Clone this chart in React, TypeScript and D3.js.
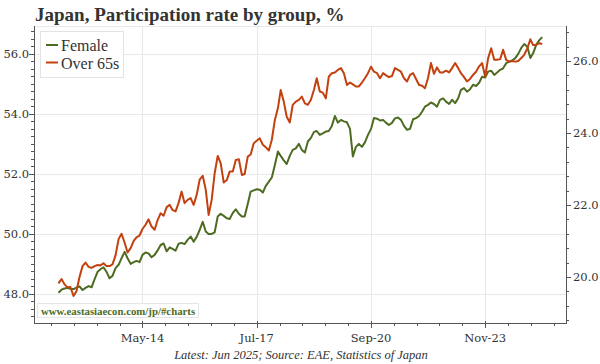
import React, { Component, createRef } from "react";
import * as d3 from "d3";

// monthly, Jan 2012 .. Jun 2025
const female: number[] = [
    48.04, 48.14, 48.18, 48.2, 48.17, 48.16, 48.21, 48.25, 48.13, 48.2, 48.26, 48.22,
    48.49, 48.74, 48.82, 48.89, 48.74, 48.52, 48.6, 48.86, 48.97, 49.19, 49.4, 49.19,
    49.0, 49.06, 49.1, 49.06, 49.3, 49.38, 49.35, 49.22, 49.3, 49.45, 49.63, 49.68,
    49.42, 49.55, 49.5, 49.44, 49.67, 49.7, 49.66, 49.8, 49.91, 49.74, 49.9, 50.13,
    50.4, 50.08, 50.0, 50.0, 50.05, 50.58, 50.67, 50.6, 50.52, 50.5, 50.7, 50.82,
    50.67, 50.58, 50.58, 51.0, 51.41, 51.45, 51.49, 51.47, 51.38, 51.6, 51.74, 51.88,
    52.3, 52.75, 52.6, 52.45, 52.33, 52.6, 52.8, 52.85, 53.0, 52.8, 52.71, 53.08,
    53.2, 53.4, 53.43, 53.3, 53.35, 53.41, 53.43, 53.6, 53.93, 53.71, 53.8, 53.75,
    53.72, 53.5, 52.58, 52.9, 53.0, 52.9, 53.05, 53.3, 53.5, 53.86, 53.84, 53.78,
    53.8, 53.7, 53.63, 53.7, 53.85, 53.88, 53.8, 53.6, 53.47, 53.5, 53.82, 53.86,
    53.93, 54.08, 54.24, 54.3, 54.38, 54.33, 54.24, 54.47, 54.52, 54.41, 54.33, 54.47,
    54.36, 54.52, 54.8, 54.86, 54.74, 54.82, 54.97, 54.93, 55.04, 55.24, 55.21, 55.41,
    55.44, 55.3, 55.38, 55.47, 55.52, 55.69, 55.74, 55.78, 55.86, 56.0, 56.2, 56.33,
    56.24, 55.86, 56.02, 56.3, 56.45, 56.56
];

const over65: number[] = [
    19.82, 19.94, 19.8, 19.71, 19.72, 19.47, 19.6, 20.0, 20.3, 20.4, 20.28, 20.25,
    20.3, 20.33, 20.32, 20.38, 20.3, 20.3, 20.35, 20.6, 21.05, 21.2, 20.95, 20.68,
    20.8, 21.0, 21.1, 21.15, 21.33, 21.45, 21.6, 21.4, 21.31, 21.58, 21.77, 21.7,
    21.94, 22.0, 21.86, 21.82, 22.05, 22.37, 22.05, 22.14, 22.19, 22.0, 22.28, 22.7,
    22.81, 22.42, 21.72, 22.14, 22.88, 23.36, 23.16, 22.62, 22.69, 22.93, 22.93, 23.25,
    23.27, 22.83, 22.86, 23.34, 23.4, 23.71, 23.78, 23.85, 23.67, 23.6, 23.51, 23.81,
    24.36, 24.69, 25.19, 24.87, 24.45, 24.29, 24.78, 24.87, 24.92, 25.01, 24.82, 24.78,
    24.92, 25.2, 25.52, 25.15, 25.12, 24.96, 25.56, 25.66, 25.68, 25.75, 25.8, 25.66,
    25.33, 25.4, 25.35, 25.29, 25.29, 25.4, 25.52, 25.66, 25.84, 25.7, 25.66, 25.52,
    25.66, 25.6, 25.55, 25.58, 25.8, 25.75, 25.7, 25.52, 25.43, 25.61, 25.66, 25.5,
    25.33, 25.31, 25.24, 25.52, 25.94, 25.64, 25.82, 25.68, 25.68, 25.73, 25.68, 25.8,
    25.94, 25.8, 25.66, 25.55, 25.43, 25.5, 25.61, 25.7, 25.85, 25.94, 25.56, 26.07,
    26.35, 26.03, 26.03, 26.05, 26.31, 26.03, 25.98, 26.0, 25.98, 26.0, 26.08, 26.17,
    26.35, 26.6, 26.44, 26.45, 26.49, 26.47
];

const seriesNames = ["Female", "Over 65s"];
const leftTicks = [48, 50, 52, 54, 56];
const rightTicks = [20, 22, 24, 26];
const xTickLabels = ["May-14", "Jul-17", "Sep-20", "Nov-23"];

const COLORS = {
    female: "#4e6b22",
    over65: "#c2410f",
    grid: "#e8e8e8",
    axis: "#555555",
    text: "#333333"
};

const SERIF = "'Liberation Serif', 'DejaVu Serif', serif";
const NUM = "'DejaVu Serif', serif";

class App extends Component {
    svgRef = createRef<SVGSVGElement>();
    width = 600;
    height = 364;

    componentDidMount() {
        document.body.style.margin = "0";
        this.drawChart();
    }

    drawChart() {
        const svg = d3.select(this.svgRef.current);
        svg.selectAll("*").remove();

        const left = 34, right = 566, top = 26, bottom = 323;
        const dates = female.map((_, i) => new Date(2012, i, 1));

        const x = d3
            .scaleTime()
            .domain([new Date(2011, 3, 28), new Date(2026, 0, 28)])
            .range([left, right]);
        const yL = d3.scaleLinear().domain([47.03, 56.93]).range([bottom, top]);
        const yR = d3.scaleLinear().domain([18.72, 26.97]).range([bottom, top]);

        const parse = d3.timeParse("%b-%y");
        const majors = xTickLabels.map(s => x(parse(s) as Date));
        const step = (majors[1] - majors[0]) / 5;
        const minors: number[] = [];
        for (let p = majors[0] - step; p > left; p -= step) minors.push(p);
        for (let p = majors[0] + step; p < right; p += step) minors.push(p);

        // grid
        const grid = svg.append("g").attr("stroke", COLORS.grid).attr("stroke-width", 1);
        grid.append("line")
            .attr("x1", left).attr("x2", right)
            .attr("y1", top + 0.5).attr("y2", top + 0.5);
        leftTicks.forEach(t => {
            grid.append("line")
                .attr("x1", left).attr("x2", right)
                .attr("y1", Math.round(yL(t)) + 0.5).attr("y2", Math.round(yL(t)) + 0.5);
        });
        majors.forEach(p => {
            grid.append("line")
                .attr("x1", Math.round(p) + 0.5).attr("x2", Math.round(p) + 0.5)
                .attr("y1", top).attr("y2", bottom);
        });

        // lines
        const lineL = d3.line<number>()
            .x((_, i) => x(dates[i]))
            .y(d => yL(d));
        const lineR = d3.line<number>()
            .x((_, i) => x(dates[i]))
            .y(d => yR(d));

        svg.append("path")
            .datum(female)
            .attr("fill", "none")
            .attr("stroke", COLORS.female)
            .attr("stroke-width", 2)
            .attr("stroke-linejoin", "round")
            .attr("d", lineL);
        svg.append("path")
            .datum(over65)
            .attr("fill", "none")
            .attr("stroke", COLORS.over65)
            .attr("stroke-width", 2)
            .attr("stroke-linejoin", "round")
            .attr("d", lineR);

        // axes
        const ax = svg.append("g").attr("stroke", COLORS.axis).attr("stroke-width", 1);
        ax.append("line").attr("x1", left + 0.5).attr("x2", left + 0.5).attr("y1", top).attr("y2", bottom + 0.5);
        ax.append("line").attr("x1", right + 0.5).attr("x2", right + 0.5).attr("y1", top).attr("y2", bottom + 0.5);
        ax.append("line").attr("x1", left).attr("x2", right + 1).attr("y1", bottom + 0.5).attr("y2", bottom + 0.5);

        d3.range(47.25, 56.93, 0.25).forEach(v => {
            const major = leftTicks.includes(Math.round(v * 100) / 100);
            const py = Math.round(yL(v)) + 0.5;
            ax.append("line").attr("x1", left - (major ? 5 : 3)).attr("x2", left).attr("y1", py).attr("y2", py);
        });
        d3.range(18.8, 26.97, 0.4).forEach(v => {
            const major = rightTicks.includes(Math.round(v * 100) / 100);
            const py = Math.round(yR(v)) + 0.5;
            ax.append("line").attr("x1", right).attr("x2", right + (major ? 5 : 3)).attr("y1", py).attr("y2", py);
        });
        majors.forEach(p => {
            const px = Math.round(p) + 0.5;
            ax.append("line").attr("x1", px).attr("x2", px).attr("y1", bottom - 2).attr("y2", bottom + 5);
        });
        minors.forEach(p => {
            const px = Math.round(p) + 0.5;
            ax.append("line").attr("x1", px).attr("x2", px).attr("y1", bottom).attr("y2", bottom + 3);
        });

        // tick labels
        const lab = svg.append("g").attr("fill", COLORS.text).attr("font-family", NUM).attr("font-size", 11.5);
        leftTicks.forEach(t => {
            lab.append("text").attr("x", 29).attr("y", yL(t) + 4).attr("text-anchor", "end").text(d3.format(".1f")(t));
        });
        rightTicks.forEach(t => {
            lab.append("text").attr("x", 573).attr("y", yR(t) + 4).text(d3.format(".1f")(t));
        });
        xTickLabels.forEach((s, i) => {
            lab.append("text").attr("x", majors[i]).attr("y", 342).attr("text-anchor", "middle").text(s);
        });

        // title
        svg.append("text")
            .attr("x", 35).attr("y", 20.5)
            .attr("font-family", SERIF).attr("font-weight", "bold").attr("font-size", 19)
            .attr("fill", COLORS.text)
            .text("Japan, Participation rate by group, %");

        // legend
        const lg = svg.append("g");
        lg.append("rect").attr("x", 40.5).attr("y", 31.5).attr("width", 83).attr("height", 46)
            .attr("fill", "white").attr("stroke", "#e3e3e3");
        [COLORS.female, COLORS.over65].forEach((c, i) => {
            const cy = 45 + i * 17.5;
            lg.append("line").attr("x1", 46).attr("x2", 58).attr("y1", cy).attr("y2", cy)
                .attr("stroke", c).attr("stroke-width", 2);
            lg.append("text").attr("x", 61).attr("y", cy + 6)
                .attr("font-family", SERIF).attr("font-size", 16).attr("fill", COLORS.text)
                .text(seriesNames[i]);
        });

        // watermark
        const wm = svg.append("g");
        wm.append("rect").attr("x", 37.5).attr("y", 303.5).attr("width", 161).attr("height", 14)
            .attr("fill", "white").attr("stroke", "#e6e6e6");
        wm.append("text").attr("x", 41).attr("y", 314.5)
            .attr("font-family", SERIF).attr("font-weight", "bold").attr("font-size", 10.8)
            .attr("fill", COLORS.female)
            .text("www.eastasiaecon.com/jp/#charts");

        // footer
        svg.append("text")
            .attr("x", 301).attr("y", 358.5)
            .attr("text-anchor", "middle")
            .attr("font-family", SERIF).attr("font-style", "italic").attr("font-size", 12.5)
            .attr("fill", COLORS.text)
            .text("Latest: Jun 2025; Source: EAE, Statistics of Japan");
    }

    render() {
        return (
            <svg
                ref={this.svgRef}
                width={this.width}
                height={this.height}
                style={{ display: "block", background: "white" }}
            ></svg>
        );
    }
}

export default App;
